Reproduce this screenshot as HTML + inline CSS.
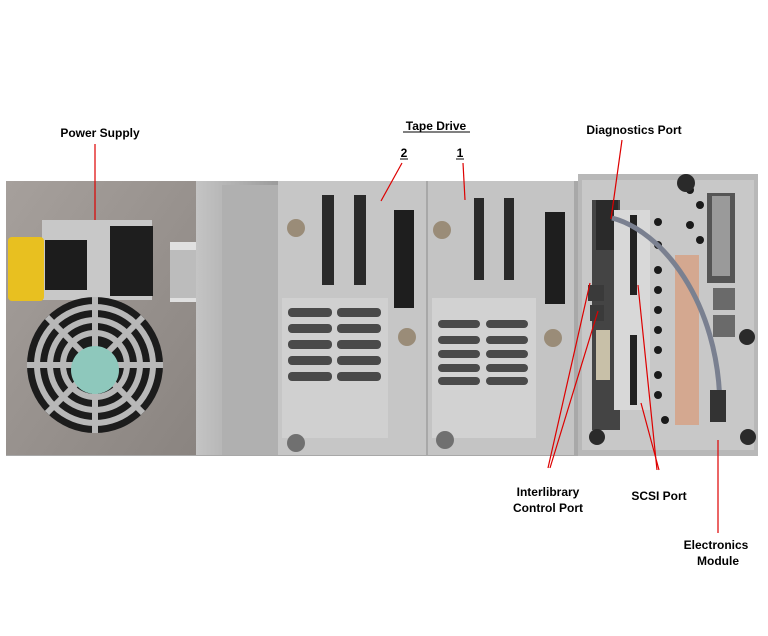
<!DOCTYPE html>
<html><head><style>
body{margin:0;background:#fff;width:768px;height:636px;overflow:hidden}
svg{display:block}
text{font-family:"Liberation Sans",sans-serif;font-weight:bold;font-size:12px;fill:#000}
</style></head><body>
<svg width="768" height="636" viewBox="0 0 768 636">
<defs>
<linearGradient id="m" x1="0" x2="1"><stop offset="0" stop-color="#c4c4c4"/><stop offset="1" stop-color="#9c9c9c"/></linearGradient>
<linearGradient id="p" x1="0" x2="1" y1="0" y2="1"><stop offset="0" stop-color="#a6a09c"/><stop offset="1" stop-color="#8a8480"/></linearGradient>
</defs>
<rect x="0" y="0" width="768" height="636" fill="#fff"/>
<!-- chassis -->
<rect x="6" y="181" width="752" height="275" fill="#a8a8a8"/>
<!-- power supply -->
<rect x="6" y="181" width="190" height="274" fill="url(#p)"/>
<rect x="42" y="220" width="110" height="80" fill="#c8c8c8"/>
<rect x="8" y="237" width="36" height="64" rx="4" fill="#e8c020"/>
<rect x="45" y="240" width="42" height="50" fill="#1c1c1c"/>
<rect x="110" y="226" width="43" height="70" fill="#1e1e1e"/>
<rect x="170" y="242" width="26" height="60" fill="#e0e0e0"/>
<rect x="170" y="250" width="26" height="48" fill="#bcbcbc"/>
<circle cx="95" cy="365" r="68" fill="#1c1c1c"/>
<g fill="none" stroke="#b8b8b8" stroke-width="6">
<circle cx="95" cy="365" r="58"/><circle cx="95" cy="365" r="45"/><circle cx="95" cy="365" r="32"/>
<line x1="95" y1="297" x2="95" y2="433"/><line x1="27" y1="365" x2="163" y2="365"/>
<line x1="47" y1="317" x2="143" y2="413"/><line x1="143" y1="317" x2="47" y2="413"/>
</g>
<circle cx="95" cy="370" r="24" fill="#8ec8bc"/>
<!-- metal strip -->
<rect x="196" y="181" width="82" height="274" fill="url(#m)"/>
<rect x="222" y="185" width="56" height="270" fill="#b0b0b0"/>
<!-- tape drive 2 -->
<rect x="278" y="181" width="148" height="274" fill="#c6c6c6"/>
<rect x="282" y="298" width="106" height="140" fill="#d0d0d0"/>
<g fill="#4a4a4a">
<rect x="288" y="308" width="44" height="9" rx="4"/><rect x="337" y="308" width="44" height="9" rx="4"/>
<rect x="288" y="324" width="44" height="9" rx="4"/><rect x="337" y="324" width="44" height="9" rx="4"/>
<rect x="288" y="340" width="44" height="9" rx="4"/><rect x="337" y="340" width="44" height="9" rx="4"/>
<rect x="288" y="356" width="44" height="9" rx="4"/><rect x="337" y="356" width="44" height="9" rx="4"/>
<rect x="288" y="372" width="44" height="9" rx="4"/><rect x="337" y="372" width="44" height="9" rx="4"/>
</g>
<rect x="322" y="195" width="12" height="90" fill="#2a2a2a"/><rect x="354" y="195" width="12" height="90" fill="#2a2a2a"/>
<rect x="394" y="210" width="20" height="98" fill="#1e1e1e"/>
<circle cx="296" cy="228" r="9" fill="#9a8c78"/><circle cx="296" cy="443" r="9" fill="#707070"/><circle cx="407" cy="337" r="9" fill="#9a8c78"/>
<!-- tape drive 1 -->
<rect x="428" y="181" width="146" height="274" fill="#c4c4c4"/>
<rect x="432" y="298" width="104" height="140" fill="#d2d2d2"/>
<g fill="#4a4a4a">
<rect x="438" y="320" width="42" height="8" rx="4"/><rect x="486" y="320" width="42" height="8" rx="4"/>
<rect x="438" y="336" width="42" height="8" rx="4"/><rect x="486" y="336" width="42" height="8" rx="4"/>
<rect x="438" y="350" width="42" height="8" rx="4"/><rect x="486" y="350" width="42" height="8" rx="4"/>
<rect x="438" y="364" width="42" height="8" rx="4"/><rect x="486" y="364" width="42" height="8" rx="4"/>
<rect x="438" y="377" width="42" height="8" rx="4"/><rect x="486" y="377" width="42" height="8" rx="4"/>
</g>
<rect x="474" y="198" width="10" height="82" fill="#2a2a2a"/><rect x="504" y="198" width="10" height="82" fill="#2a2a2a"/>
<rect x="545" y="212" width="20" height="92" fill="#1e1e1e"/>
<circle cx="442" cy="230" r="9" fill="#9a8c78"/><circle cx="445" cy="440" r="9" fill="#707070"/><circle cx="553" cy="338" r="9" fill="#9a8c78"/>
<!-- electronics module -->
<rect x="578" y="174" width="180" height="282" fill="#b8b8b8"/>
<rect x="582" y="180" width="172" height="270" fill="#c8c8c8"/>
<rect x="592" y="200" width="28" height="230" fill="#444"/>
<rect x="596" y="200" width="22" height="50" fill="#2a2a2a"/>
<rect x="588" y="285" width="16" height="16" fill="#3a3a3a"/><rect x="590" y="305" width="14" height="16" fill="#3a3a3a"/>
<rect x="596" y="330" width="14" height="50" fill="#c8c0a8"/>
<rect x="614" y="210" width="36" height="200" fill="#d8d8d8"/>
<rect x="630" y="215" width="7" height="80" fill="#222"/><rect x="630" y="335" width="7" height="70" fill="#222"/>
<rect x="675" y="255" width="24" height="170" fill="#d4a890"/>
<g fill="#1a1a1a">
<circle cx="658" cy="222" r="4"/><circle cx="658" cy="245" r="4"/><circle cx="658" cy="270" r="4"/><circle cx="658" cy="290" r="4"/><circle cx="658" cy="310" r="4"/><circle cx="658" cy="330" r="4"/><circle cx="658" cy="350" r="4"/><circle cx="658" cy="375" r="4"/><circle cx="658" cy="395" r="4"/><circle cx="665" cy="420" r="4"/>
<circle cx="690" cy="190" r="4"/><circle cx="700" cy="205" r="4"/><circle cx="690" cy="225" r="4"/><circle cx="700" cy="240" r="4"/>
</g>
<rect x="707" y="193" width="28" height="90" fill="#555"/>
<rect x="712" y="196" width="18" height="80" fill="#9a9a9a"/>
<rect x="713" y="288" width="22" height="22" fill="#6a6a6a"/><rect x="713" y="315" width="22" height="22" fill="#6a6a6a"/>
<path d="M612 218 C660 230 720 300 720 410" fill="none" stroke="#7a8090" stroke-width="5"/>
<rect x="710" y="390" width="16" height="32" fill="#333"/>
<circle cx="686" cy="183" r="9" fill="#2a2a2a"/><circle cx="747" cy="337" r="8" fill="#2a2a2a"/><circle cx="597" cy="437" r="8" fill="#2a2a2a"/><circle cx="748" cy="437" r="8" fill="#2a2a2a"/>
<!-- labels -->
<text x="100" y="137" text-anchor="middle">Power Supply</text>
<text x="436" y="130" text-anchor="middle">Tape Drive</text>
<line x1="403" y1="132" x2="470" y2="132" stroke="#000" stroke-width="1"/>
<text x="404" y="157" text-anchor="middle">2</text><line x1="400" y1="159" x2="408" y2="159" stroke="#000"/>
<text x="460" y="157" text-anchor="middle">1</text><line x1="456" y1="159" x2="464" y2="159" stroke="#000"/>
<text x="634" y="134" text-anchor="middle">Diagnostics Port</text>
<text x="548" y="496" text-anchor="middle">Interlibrary</text>
<text x="548" y="512" text-anchor="middle">Control Port</text>
<text x="659" y="500" text-anchor="middle">SCSI Port</text>
<text x="716" y="549" text-anchor="middle">Electronics</text>
<text x="718" y="565" text-anchor="middle">Module</text>
<g stroke="#d00" stroke-width="1.2" fill="none">
<line x1="95" y1="144" x2="95" y2="220"/>
<line x1="402" y1="163" x2="381" y2="201"/>
<line x1="463" y1="163" x2="465" y2="200"/>
<line x1="622" y1="140" x2="611" y2="219"/>
<line x1="548" y1="468" x2="590" y2="283"/>
<line x1="550" y1="468" x2="598" y2="311"/>
<line x1="657" y1="470" x2="638" y2="285"/>
<line x1="659" y1="470" x2="641" y2="403"/>
<line x1="718" y1="440" x2="718" y2="533"/>
</g>
</svg>
</body></html>
